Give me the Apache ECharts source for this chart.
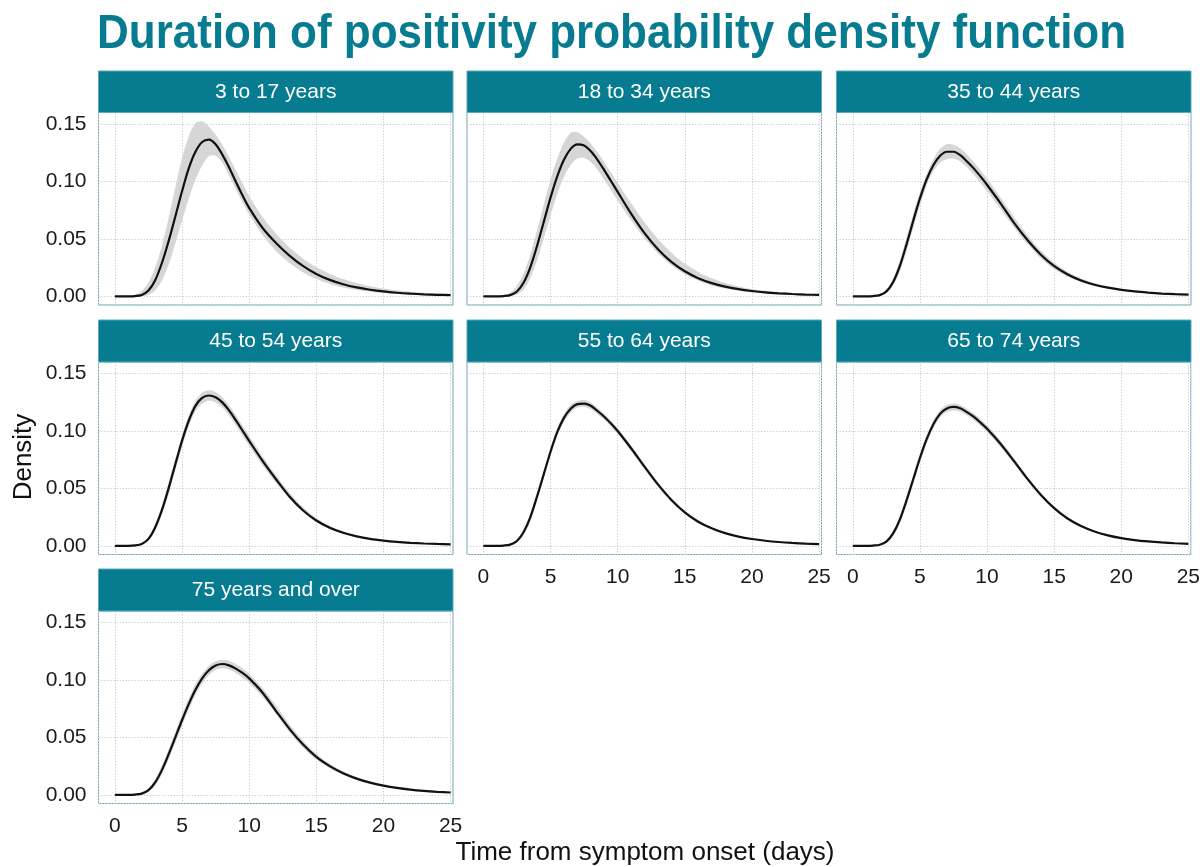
<!DOCTYPE html>
<html><head><meta charset="utf-8">
<script src="https://cdn.jsdelivr.net/npm/echarts@6/dist/echarts.min.js"></script>
<style>html,body{margin:0;padding:0;background:#fff}#c{width:1203px;height:867px}</style>
</head><body><div id="c"></div>
<script>
// ---- data ----
const days = [0,0.5,1,1.5,2,2.5,3,3.5,4,4.5,5,5.5,6,6.5,7,7.5,8,8.5,9,9.5,10,11,12,13,14,15,16,17,18,19,20,21,22,23,24,25];
const panelTitles = ['3 to 17 years','18 to 34 years','35 to 44 years','45 to 54 years','55 to 64 years','65 to 74 years','75 years and over'];
const yTicks = [0, 0.05, 0.10, 0.15];
const xTicks = [0, 5, 10, 15, 20, 25];

const mean_3_17  = [0,0,0,0.0002,0.0012,0.005,0.014,0.029,0.048,0.0695,0.0915,0.1115,0.126,0.1345,0.1365,0.1325,0.1235,0.1125,0.1,0.088,0.077,0.0595,0.0465,0.0355,0.0265,0.0195,0.0143,0.0105,0.0077,0.0057,0.0042,0.0031,0.0023,0.0017,0.0013,0.001];
const upper_3_17 = [0,0,0.0002,0.0012,0.0045,0.012,0.025,0.044,0.068,0.095,0.12,0.1395,0.151,0.1525,0.148,0.141,0.132,0.1215,0.11,0.0985,0.0875,0.069,0.0545,0.0425,0.033,0.0255,0.0195,0.015,0.0115,0.0088,0.0068,0.0052,0.004,0.0031,0.0024,0.0019];
const lower_3_17 = [0,0,0,0,0.0002,0.0012,0.005,0.0135,0.0275,0.046,0.066,0.085,0.1015,0.114,0.122,0.1225,0.1165,0.1055,0.0935,0.082,0.0715,0.0535,0.0395,0.029,0.021,0.015,0.0107,0.0076,0.0054,0.0039,0.0028,0.002,0.0015,0.0011,0.0008,0.0006];

const mean_18_34  = [0,0,0,0.0002,0.001,0.0042,0.012,0.0255,0.044,0.065,0.086,0.1045,0.119,0.1285,0.1325,0.1315,0.1265,0.119,0.11,0.1005,0.091,0.072,0.055,0.041,0.03,0.0218,0.0158,0.0115,0.0084,0.0062,0.0046,0.0034,0.0026,0.002,0.0015,0.0012];
const upper_18_34 = [0,0,0.0001,0.0008,0.0032,0.009,0.02,0.0365,0.0575,0.08,0.1015,0.12,0.134,0.1425,0.143,0.139,0.133,0.1255,0.117,0.108,0.099,0.081,0.0645,0.05,0.038,0.0285,0.0212,0.0157,0.0116,0.0086,0.0064,0.0048,0.0036,0.0027,0.0021,0.0016];
const lower_18_34 = [0,0,0,0,0.0003,0.0016,0.0062,0.016,0.0315,0.0505,0.0705,0.089,0.104,0.1145,0.12,0.1205,0.117,0.11,0.1015,0.0925,0.0835,0.066,0.0505,0.0375,0.027,0.0192,0.0135,0.0095,0.0067,0.0048,0.0034,0.0025,0.0018,0.0013,0.001,0.0008];

const mean_35_44  = [0,0,0,0.0002,0.001,0.0043,0.0125,0.0265,0.0455,0.066,0.0855,0.102,0.1145,0.1225,0.126,0.126,0.123,0.1175,0.1115,0.1045,0.097,0.081,0.064,0.049,0.0362,0.0262,0.019,0.0138,0.0101,0.0075,0.0056,0.0042,0.0032,0.0024,0.0018,0.0014];
const upper_35_44 = [0,0,0,0.0004,0.0017,0.006,0.016,0.0315,0.0515,0.072,0.091,0.107,0.1195,0.1285,0.1325,0.132,0.129,0.1235,0.117,0.11,0.1025,0.086,0.069,0.0535,0.04,0.0292,0.0213,0.0156,0.0115,0.0086,0.0064,0.0048,0.0037,0.0028,0.0021,0.0016];
const lower_35_44 = [0,0,0,0.0001,0.0005,0.0028,0.0092,0.0215,0.0395,0.0595,0.0795,0.0965,0.109,0.1165,0.1195,0.12,0.1175,0.1125,0.106,0.099,0.0915,0.076,0.06,0.0455,0.033,0.0236,0.017,0.0122,0.0089,0.0065,0.0048,0.0036,0.0027,0.002,0.0015,0.0012];

const mean_45_54  = [0,0,0,0.0003,0.0016,0.006,0.016,0.031,0.05,0.071,0.0915,0.109,0.122,0.129,0.131,0.1295,0.125,0.118,0.1095,0.1005,0.0915,0.074,0.058,0.043,0.031,0.022,0.0157,0.0113,0.0082,0.006,0.0045,0.0034,0.0026,0.002,0.0016,0.0013];
const upper_45_54 = [0,0,0,0.0005,0.0023,0.0078,0.019,0.035,0.055,0.076,0.096,0.1135,0.1265,0.1335,0.1355,0.134,0.1295,0.1225,0.114,0.105,0.096,0.078,0.0615,0.0465,0.0338,0.0242,0.0174,0.0126,0.0092,0.0068,0.0051,0.0039,0.003,0.0023,0.0018,0.0015];
const lower_45_54 = [0,0,0,0.0001,0.0009,0.0042,0.013,0.027,0.045,0.066,0.0865,0.104,0.117,0.124,0.1265,0.125,0.1205,0.1135,0.105,0.096,0.087,0.07,0.0545,0.041,0.0295,0.0208,0.0147,0.0105,0.0076,0.0055,0.0041,0.0031,0.0023,0.0018,0.0014,0.0011];

const mean_55_64  = [0,0,0,0.0002,0.001,0.0042,0.012,0.025,0.043,0.0625,0.082,0.099,0.1115,0.1195,0.1235,0.124,0.122,0.1175,0.1125,0.1065,0.1,0.085,0.069,0.0535,0.04,0.0292,0.021,0.0152,0.011,0.008,0.0059,0.0044,0.0033,0.0025,0.0019,0.0015];
const upper_55_64 = [0,0,0,0.0003,0.0014,0.0055,0.0145,0.0285,0.0465,0.066,0.0855,0.1025,0.115,0.123,0.1265,0.127,0.125,0.1205,0.115,0.109,0.1025,0.0875,0.0712,0.0555,0.0417,0.0306,0.0222,0.0161,0.0117,0.0086,0.0064,0.0048,0.0036,0.0027,0.0021,0.0017];
const lower_55_64 = [0,0,0,0.0001,0.0006,0.003,0.0095,0.0215,0.0395,0.059,0.0785,0.0955,0.108,0.116,0.1205,0.121,0.119,0.1145,0.11,0.104,0.0975,0.0825,0.0668,0.0515,0.0383,0.0278,0.0198,0.0143,0.0103,0.0074,0.0054,0.004,0.003,0.0023,0.0017,0.0013];

const mean_65_74  = [0,0,0,0.0002,0.0009,0.0037,0.0108,0.0228,0.0395,0.058,0.0765,0.093,0.106,0.115,0.1197,0.121,0.1198,0.1165,0.1125,0.1075,0.102,0.089,0.074,0.0585,0.0445,0.0328,0.0238,0.0172,0.0125,0.0091,0.0067,0.005,0.0038,0.0029,0.0022,0.0017];
const upper_65_74 = [0,0,0,0.0003,0.0013,0.005,0.0135,0.0265,0.0435,0.062,0.0805,0.0965,0.1095,0.1182,0.1228,0.124,0.1228,0.1195,0.1155,0.1105,0.105,0.0918,0.0765,0.0607,0.0463,0.0342,0.0249,0.018,0.0131,0.0096,0.0071,0.0053,0.004,0.003,0.0023,0.0018];
const lower_65_74 = [0,0,0,0.0001,0.0005,0.0026,0.0083,0.0193,0.0355,0.054,0.0725,0.0893,0.1025,0.1118,0.1166,0.118,0.1168,0.1135,0.1095,0.1045,0.099,0.0862,0.0715,0.0563,0.0427,0.0314,0.0227,0.0164,0.0119,0.0086,0.0063,0.0046,0.0034,0.0026,0.0019,0.0014];

const mean_75  = [0,0,0,0.0002,0.001,0.004,0.0108,0.0215,0.0352,0.05,0.065,0.079,0.0915,0.1015,0.1085,0.1127,0.114,0.1128,0.11,0.1062,0.1015,0.089,0.073,0.0575,0.044,0.033,0.025,0.0188,0.0141,0.0106,0.008,0.006,0.0045,0.0034,0.0026,0.002];
const upper_75 = [0,0,0,0.0004,0.0017,0.0058,0.0138,0.0255,0.0398,0.055,0.07,0.084,0.0962,0.1058,0.1125,0.1165,0.1178,0.1168,0.114,0.1102,0.1056,0.093,0.0775,0.0615,0.0473,0.0357,0.0271,0.0205,0.0155,0.0117,0.0089,0.0067,0.0051,0.0039,0.003,0.0023];
const lower_75 = [0,0,0,0.0001,0.0005,0.0025,0.008,0.0177,0.0308,0.0452,0.06,0.0742,0.0868,0.097,0.1043,0.1088,0.1102,0.1092,0.1062,0.1022,0.0975,0.0852,0.0705,0.0545,0.0412,0.0307,0.0231,0.0173,0.0129,0.0096,0.0072,0.0054,0.004,0.003,0.0023,0.0018];

const panelMeans  = [mean_3_17, mean_18_34, mean_35_44, mean_45_54, mean_55_64, mean_65_74, mean_75];
const panelUppers = [upper_3_17, upper_18_34, upper_35_44, upper_45_54, upper_55_64, upper_65_74, upper_75];
const panelLowers = [lower_3_17, lower_18_34, lower_35_44, lower_45_54, lower_55_64, lower_65_74, lower_75];

// ---- layout ----
const TEAL = '#077B8F';
const BORDER = '#5aaabb';
const FONT = '"Liberation Sans", Arial, Helvetica, sans-serif';
const colLeft = [98.5, 467, 836.5];
const panelW = 354.5;
const stripTop = [71, 320, 569];
const plotTop = [112.5, 362, 611];
const plotH = 192.5;

const grids = [], xAxes = [], yAxes = [], series = [], graphics = [];
panelTitles.forEach((t, i) => {
  const r = Math.floor(i / 3), c = i % 3;
  const showX = (r === 2) || (r === 1 && c > 0);
  const showY = c === 0;
  grids.push({left: colLeft[c], top: plotTop[r], width: panelW, height: plotH,
    show: true, borderColor: BORDER, borderWidth: 1, backgroundColor: '#fff', containLabel: false});
  xAxes.push({gridIndex: i, type: 'value', min: -1.22, max: 25.18, minInterval: 5, maxInterval: 5,
    axisLine: {show: false}, axisTick: {show: false},
    splitLine: {show: true, lineStyle: {color: '#d2d2d2', type: [1.5, 1.5], width: 1}},
    axisLabel: {show: showX, fontSize: 21, color: '#1a1a1a', fontFamily: FONT, margin: 12,
      formatter: v => xTicks.some(k => Math.abs(k - v) < 1e-6) ? String(v) : ''}});
  yAxes.push({gridIndex: i, type: 'value', min: -0.0076, max: 0.1602, minInterval: 0.05, maxInterval: 0.05,
    axisLine: {show: false}, axisTick: {show: false},
    splitLine: {show: true, lineStyle: {color: '#d2d2d2', type: [1.5, 1.5], width: 1}},
    axisLabel: {show: showY, fontSize: 21, color: '#1a1a1a', fontFamily: FONT, margin: 12,
      formatter: v => yTicks.some(k => Math.abs(k - v) < 1e-6) ? v.toFixed(2) : ''}});
  const lower = panelLowers[i], upper = panelUppers[i], mean = panelMeans[i];
  series.push({type: 'custom', xAxisIndex: i, yAxisIndex: i, silent: true, z: 1,
    data: [[0, 0]],
    renderItem: (params, api) => {
      const pts = [];
      for (let k = 0; k < days.length; k++) pts.push(api.coord([days[k], upper[k]]));
      for (let k = days.length - 1; k >= 0; k--) pts.push(api.coord([days[k], lower[k]]));
      return {type: 'polygon', shape: {points: pts, smooth: 0.3}, style: {fill: '#d6d6d6', stroke: null}};
    }});
  series.push({type: 'line', xAxisIndex: i, yAxisIndex: i, smooth: 0.3, symbol: 'none',
    lineStyle: {width: 2.2, color: '#111'}, data: days.map((d, k) => [d, mean[k]]), z: 3});
  graphics.push({type: 'rect', shape: {x: colLeft[c], y: stripTop[r], width: panelW, height: plotTop[r] - stripTop[r]},
    style: {fill: TEAL, stroke: BORDER, lineWidth: 1}, z: 10});
  graphics.push({type: 'text', x: colLeft[c] + panelW / 2, y: (stripTop[r] + plotTop[r]) / 2 + 0.5,
    style: {text: t, fill: '#fff', font: '21px ' + FONT, textAlign: 'center', textVerticalAlign: 'middle'}, z: 11});
});

graphics.push({type: 'text', x: 97, y: 35, scaleY: 1.08,
  style: {text: 'Duration of positivity probability density function', fill: TEAL,
    font: 'bold 44px ' + FONT, textAlign: 'left', textVerticalAlign: 'middle'}, z: 11});
graphics.push({type: 'text', x: 24, y: 457, rotation: Math.PI / 2,
  style: {text: 'Density', fill: '#111', font: '26px ' + FONT, textAlign: 'center', textVerticalAlign: 'middle'}, z: 11});
graphics.push({type: 'text', x: 645, y: 853,
  style: {text: 'Time from symptom onset (days)', fill: '#111', font: '26px ' + FONT, textAlign: 'center', textVerticalAlign: 'middle'}, z: 11});

const chart = echarts.init(document.getElementById('c'), null, {renderer: 'canvas'});
chart.setOption({animation: false, backgroundColor: '#fff', grid: grids, xAxis: xAxes, yAxis: yAxes, series: series, graphic: graphics});
</script></body></html>
